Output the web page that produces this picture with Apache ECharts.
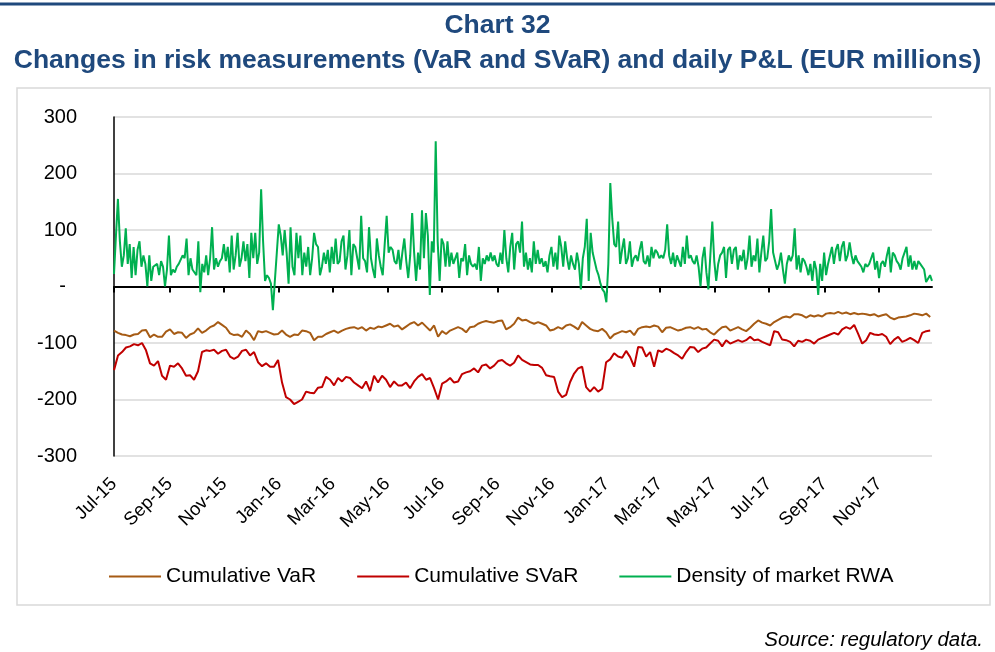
<!DOCTYPE html>
<html>
<head>
<meta charset="utf-8">
<script src="https://cdn.jsdelivr.net/npm/echarts@6.0.0/dist/echarts.min.js"></script>
<style>
  html, body { margin: 0; padding: 0; background: #fff; }
  #chart { width: 995px; height: 652px; }
</style>
</head>
<body>
<div id="chart"></div>
<script>
// series names
const seriesNames = ['Cumulative VaR', 'Cumulative SVaR', 'Density of market RWA']

// first and last dates of the data (values are spread evenly in between)
const firstDate = '2015-07-01'
const lastDateVar = '2017-12-28'
const lastDateRwa = '2017-12-30'

// x axis ticks, every two months
const tickDates = ['2015-07-01', '2015-09-01', '2015-11-01', '2016-01-01', '2016-03-01',
  '2016-05-01', '2016-07-01', '2016-09-01', '2016-11-01', '2017-01-01', '2017-03-01',
  '2017-05-01', '2017-07-01', '2017-09-01', '2017-11-01']
const monthNames = ['Jan', 'Feb', 'Mar', 'Apr', 'May', 'Jun', 'Jul', 'Aug', 'Sep', 'Oct', 'Nov', 'Dec']

// y axis
const yMin = -300
const yMax = 300
const yStep = 100

// Cumulative VaR (EUR m)
const cumVar = [
  -78, -82, -85, -86, -88, -85, -84, -78, -77, -90, -85, -89, -89, -80, -76, -84, -81, -82, -91, -85,
  -82, -74, -82, -78, -72, -69, -63, -68, -73, -83, -86, -85, -89, -78, -84, -95, -79, -81, -79, -82,
  -85, -84, -78, -85, -89, -85, -86, -78, -79, -82, -95, -89,
  -89, -84, -81, -78, -82, -78, -75, -73, -72, -75, -72, -78, -73, -75, -71, -72, -69, -66, -71, -69,
  -76, -71, -66, -63, -69, -64, -71, -78, -69, -89, -79, -84, -78, -75, -72, -75, -81, -72, -71, -66,
  -63, -61, -63, -64, -61, -60, -76, -72, -66, -55, -60,
  -59, -63, -66, -63, -66, -69, -78, -76, -72, -75, -69, -67, -71, -76, -63, -69, -75, -78, -79, -75,
  -81, -92, -85, -82, -79, -81, -78, -86, -75, -72, -71, -72, -69, -71, -81, -73, -72, -75, -78, -76,
  -73, -72, -75, -72, -76, -75, -81, -85, -78, -72, -71,
  -78, -75, -72, -76, -79, -73, -66, -60, -64, -66, -69, -63, -59, -55, -53, -55, -49, -49, -51, -55,
  -51, -53, -51, -53, -48, -47, -48, -45, -48, -46, -49, -47, -49, -48, -49, -51, -49, -53, -51, -49,
  -55, -58, -55, -54, -53, -51, -48, -49, -51, -48, -54
]

// Cumulative SVaR (EUR m)
const cumSvar = [
  -148, -122, -116, -108, -106, -102, -104, -100, -113, -136, -140, -132, -158, -165, -140, -142, -136, -145, -158, -157,
  -165, -150, -116, -113, -114, -112, -119, -114, -112, -124, -128, -124, -114, -112, -122, -116, -134, -141, -136, -142,
  -142, -130, -170, -196, -200, -208, -204, -200, -186, -188, -189, -179,
  -178, -160, -165, -175, -162, -168, -160, -162, -170, -175, -180, -168, -185, -158, -170, -158, -165, -178, -168, -175,
  -175, -170, -180, -168, -160, -155, -165, -162, -180, -200, -172, -168, -162, -170, -168, -155, -152, -150, -145, -152,
  -140, -138, -145, -140, -132, -130, -136, -140, -135, -122, -130,
  -134, -138, -139, -139, -144, -157, -159, -160, -186, -196, -192, -169, -154, -145, -142, -178, -186, -178, -186, -181,
  -134, -129, -118, -124, -126, -114, -125, -142, -107, -108, -124, -116, -142, -113, -116, -110, -113, -118, -122, -128,
  -116, -107, -108, -116, -110, -108, -101, -94, -96, -106, -95,
  -101, -98, -95, -98, -95, -89, -95, -94, -98, -101, -104, -79, -81, -94, -95, -98, -106, -96, -98, -94,
  -96, -101, -94, -91, -88, -85, -82, -85, -76, -72, -75, -68, -84, -101, -95, -82, -85, -86, -84, -89,
  -102, -94, -89, -98, -95, -91, -95, -100, -82, -79, -78
]

// Density of market RWA
const rwaDensity = [
  22, 90, 155, 80, 35, 55, 103, 40, 75, 15, 70, 20, 65, 80, 35, 55, 40, 0, 55, 10,
  35, 35, 40, 20, 45, 35, 0, 30, 90, 20, 30, 25, 35, 40, 40, 55, 50, 85, 20, 50,
  30, 30, 20, 80, -10, 40, 25, 55, 20, 50, 105, 30, 50, 35, 45, 50, 75, 45, 70, 25,
  90, 30, 55, 95, 35, 50, 80, 45, 75, 15, 95, 50, 95, 40, 60, 172, 80, 10, 20, 15,
  5, -42, 10, 60, 110, 90, 55, 100, 60, 5, 105, 35, 20, 95, 50, 90, 20, 60, 35, 70,
  20, 50, 95, 75,
  70, 20, 35, 60, 40, 65, 25, 70, 40, 85, 40, 45, 80, 90, 30, 55, 100, 20, 75, 70,
  50, 30, 125, 50, 45, 25, 105, 50, 30, 15, 85, 55, 35, 20, 75, 125, 60, 70, 65, 45,
  40, 65, 30, 60, 85, 45, 15, 55, 130, 60, 10, 60, 30, 135, 50, 130, 90, -15, 80, 60,
  257, 80, 10, 85, 75, 35, 80, 35, 60, 40, 40, 60, 15, 50, 45, 75, 20, 55, 40, 35,
  40, 30, 70, 10, 50, 40, 55, 45, 60, 45, 55, 40, 35, 60, 40, 100, 50, 25, 70, 95,
  30, 75, 80, 60, 115,
  35, 60, 30, 50, 25, 80, 40, 65, 40, 50, 35, 45, 25, 55, 70, 35, 60, 30, 90, 70,
  35, 80, 50, 30, 55, 40, 30, 60, 40, -5, 50, 70, 120, 10, 95, 60, 45, 30, 20, 5,
  -5, -10, -28, 40, 183, 120, 75, 70, 115, 40, 65, 85, 40, 50, 80, 35, 50, 55, 45, 65,
  80, 45, 40, 55, 35, 70, 50, 65, 60, 50, 55, 50, 65, 110, 55, 40, 60, 35, 55, 45,
  35, 70, 40, 90, 50, 55, 45, 40, 55, 35, 0, 50, 70, 25, -5, 55, 115, 45, 10, 40,
  55, 60, 70, 15, 65, 70,
  40, 65, 70, 30, 55, 45, 65, 30, 50, 90, 35, 55, 45, 85, 25, 60, 90, 45, 50, 80,
  137, 60, 45, 30, 40, 60, 30, 5, 40, 55, 45, 55, 103, 30, 55, 25, 50, 45, 35, 20,
  40, 10, 45, 30, -15, 40, 10, 60, 20, 40, 55, 70, 40, 65, 75, 45, 70, 80, 45, 55,
  78, 55, 40, 55, 45, 40, 35, 25, 40, 35, 40, 50, 60, 30, 45, 15, 40, 45, 35, 55,
  70, 25, 60, 55, 45, 40, 30, 50, 60, 70, 35, 55, 30, 45, 30, 45, 40, 40, 30, 8,
  10, 20, 10
]

const colors = ['#A65B14', '#C00000', '#00B050']
const titleBlue = '#1F497D'
const fontFamily = '"Liberation Sans", Arial, sans-serif'

// spread values evenly over the date range
function toPairs(values, from, to) {
  const t0 = Date.parse(from)
  const t1 = Date.parse(to)
  const step = (t1 - t0) / (values.length - 1)
  return values.map((v, i) => [t0 + i * step, v])
}

function labelOf(t) {
  const d = new Date(t)
  return monthNames[d.getUTCMonth()] + '-' + String(d.getUTCFullYear()).slice(2)
}

const chart = echarts.init(document.getElementById('chart'))
const tickValues = tickDates.map(d => Date.parse(d))
const axisMin = Date.parse(firstDate)
const axisMax = Date.parse(lastDateRwa)

const option = {
  animation: false,
  title: [
    {
      text: 'Chart 32',
      left: 'center',
      top: 7,
      textStyle: { color: titleBlue, fontSize: 26.5, fontWeight: 'bold', fontFamily: fontFamily }
    },
    {
      text: 'Changes in risk measurements (VaR and SVaR) and daily P&L (EUR millions)',
      left: 'center',
      top: 42,
      textStyle: { color: titleBlue, fontSize: 26.5, fontWeight: 'bold', fontFamily: fontFamily }
    },
    {
      text: 'Source: regulatory data.',
      right: 7,
      top: 625,
      textStyle: { color: '#000', fontSize: 20.5, fontWeight: 'normal', fontStyle: 'italic', fontFamily: fontFamily }
    }
  ],
  graphic: [
    {
      type: 'line',
      shape: { x1: 0, y1: 4, x2: 995, y2: 4 },
      style: { stroke: titleBlue, lineWidth: 3 }
    },
    {
      type: 'rect',
      shape: { x: 17, y: 88, width: 973, height: 517 },
      style: { fill: 'none', stroke: '#D9D9D9', lineWidth: 1.5 }
    }
  ],
  legend: {
    data: seriesNames,
    left: 104,
    top: 561,
    icon: 'rect',
    itemWidth: 52,
    itemHeight: 2,
    itemGap: 41,
    textStyle: { color: '#000', fontSize: 21, fontFamily: fontFamily }
  },
  grid: { left: 114, right: 63, top: 117, bottom: 196, containLabel: false },
  xAxis: [
    {
      type: 'value',
      min: axisMin,
      max: axisMax,
      position: 'bottom',
      axisLine: { onZero: true, lineStyle: { color: '#000', width: 2 } },
      axisTick: { show: true, length: 6, lineStyle: { color: '#000', width: 2 }, customValues: tickValues },
      axisLabel: { show: false },
      splitLine: { show: false }
    },
    {
      type: 'value',
      min: axisMin,
      max: axisMax,
      position: 'bottom',
      axisLine: { show: false, onZero: false },
      axisTick: { show: false },
      axisLabel: {
        show: true,
        rotate: 45,
        margin: 25,
        color: '#000',
        fontSize: 18.5,
        fontFamily: fontFamily,
        customValues: tickValues,
        formatter: labelOf
      },
      splitLine: { show: false }
    }
  ],
  yAxis: {
    type: 'value',
    min: yMin,
    max: yMax,
    interval: yStep,
    axisLine: { show: true, lineStyle: { color: '#000', width: 1.5 } },
    axisTick: { show: false },
    axisLabel: {
      color: '#000',
      fontSize: 20,
      fontFamily: fontFamily,
      margin: 37,
      formatter: v => (v === 0 ? '-  ' : String(v))
    },
    splitLine: { show: true, lineStyle: { color: '#D9D9D9', width: 1.5 } }
  },
  series: [
    {
      name: seriesNames[0],
      type: 'line',
      xAxisIndex: 0,
      data: toPairs(cumVar, firstDate, lastDateVar),
      showSymbol: false,
      lineStyle: { color: colors[0], width: 2 },
      itemStyle: { color: colors[0] }
    },
    {
      name: seriesNames[1],
      type: 'line',
      xAxisIndex: 0,
      data: toPairs(cumSvar, firstDate, lastDateVar),
      showSymbol: false,
      lineStyle: { color: colors[1], width: 2 },
      itemStyle: { color: colors[1] }
    },
    {
      name: seriesNames[2],
      type: 'line',
      xAxisIndex: 0,
      data: toPairs(rwaDensity, firstDate, lastDateRwa),
      showSymbol: false,
      lineStyle: { color: colors[2], width: 2 },
      itemStyle: { color: colors[2] }
    }
  ]
}

chart.setOption(option)
window.addEventListener('resize', () => chart.resize())
</script>
</body>
</html>
